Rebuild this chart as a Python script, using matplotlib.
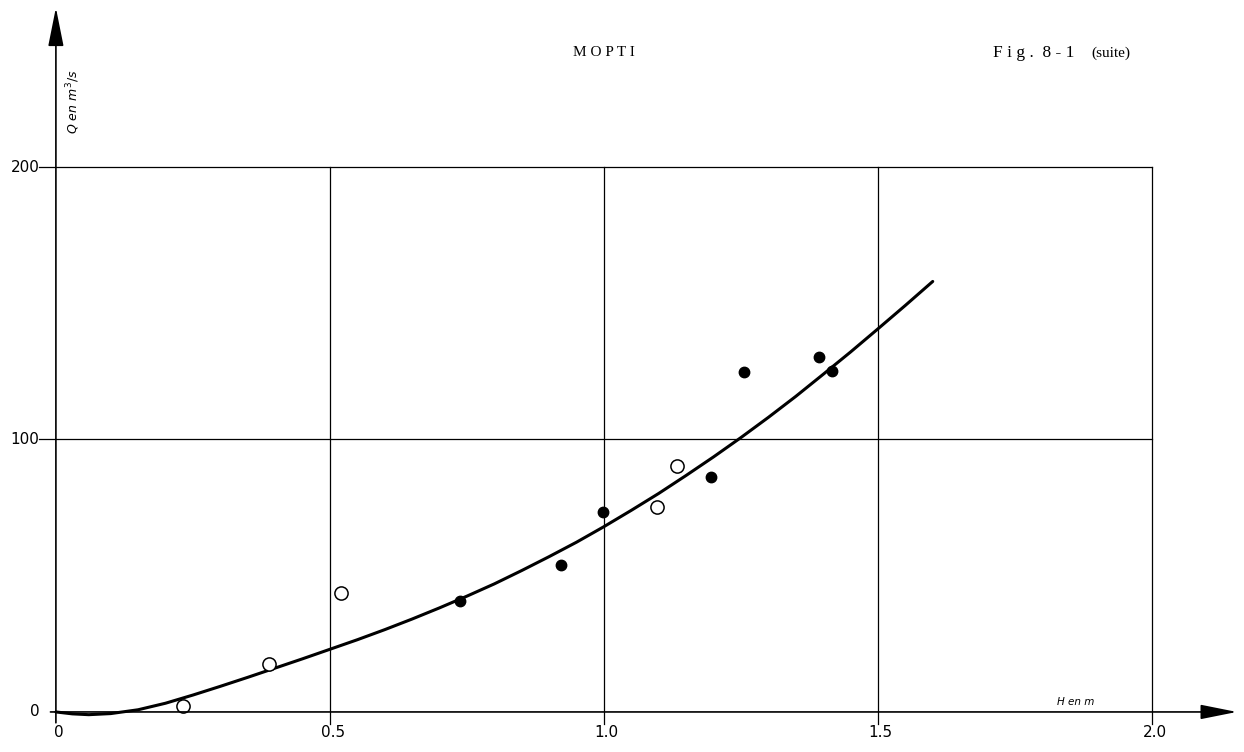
import numpy as np
import matplotlib
matplotlib.use("Agg")
import matplotlib.pyplot as plt

# ---- datos (H en m, Q en m3/s) ----
h_open = [0.232, 0.389, 0.520, 1.097, 1.133]
q_open = [2.2, 17.6, 43.7, 75.2, 90.3]

h_full = [0.737, 0.921, 0.998, 1.195, 1.255, 1.392, 1.416]
q_full = [40.7, 53.9, 73.4, 86.2, 124.8, 130.3, 125.1]

# courbe de tarage tracee a la main
h_curve = [0.00, 0.03, 0.06, 0.10, 0.15, 0.20, 0.25, 0.30, 0.35, 0.40, 0.45,
           0.50, 0.55, 0.60, 0.65, 0.70, 0.75, 0.80, 0.85, 0.90, 0.95,
           1.00, 1.05, 1.10, 1.15, 1.20, 1.25, 1.30, 1.35, 1.40, 1.45,
           1.50, 1.55, 1.60]
q_curve = [0.0, -0.7, -1.0, -0.6, 0.8, 3.2, 6.2, 9.4, 12.7, 16.1, 19.5,
           23.0, 26.5, 30.2, 34.1, 38.2, 42.5, 47.0, 51.9, 57.0, 62.3,
           68.0, 74.0, 80.2, 86.8, 93.6, 100.7, 108.1, 115.8, 123.9, 132.1,
           140.6, 149.2, 158.0]

x_ticks = [0, 0.5, 1.0, 1.5, 2.0]
x_tick_labels = ["0", "0.5", "1.0", "1.5", "2.0"]
y_ticks = [0, 100, 200]
y_tick_labels = ["0", "100", "200"]

# ---- figura ----
fig = plt.figure(figsize=(12.44, 7.52), dpi=100)
ax = fig.add_axes([0, 0, 1, 1])
ax.set_xlim(-0.102, 2.168)
ax.set_ylim(-14.7, 261.3)
ax.axis("off")

# cuadricula
for x in x_ticks[1:]:
    ax.plot([x, x], [-4.5, 200], color="black", lw=0.9)
for y in y_ticks[1:]:
    ax.plot([-0.03, 2.0], [y, y], color="black", lw=0.9)

# ejes con flechas
ax.annotate("", xy=(0, 259.5), xytext=(0, -5),
            arrowprops=dict(arrowstyle="-|>,head_length=0.8,head_width=0.16",
                            mutation_scale=30, lw=1.2, color="black"))
ax.annotate("", xy=(2.16, 0), xytext=(-0.015, 0),
            arrowprops=dict(arrowstyle="-|>,head_length=0.75,head_width=0.15",
                            mutation_scale=30, lw=1.2, color="black"))

# etiquetas de los ejes
for x, lab in zip(x_ticks, x_tick_labels):
    ax.text(x + 0.005, -7.7, lab, ha="center", va="center", fontsize=11)
for y, lab in zip(y_ticks, y_tick_labels):
    ax.text(-0.03, y, lab, ha="right", va="center", fontsize=11)

ax.text(0.031, 224, r"$Q\ en\ m^3/s$", rotation=90, ha="center",
        va="center", fontsize=9)
ax.text(1.86, 3.5, "H en m", style="italic", ha="center", va="center", fontsize=7.5)

# titulos
ax.text(1.0, 242, "M O P T I", family="Liberation Serif", ha="center",
        va="center", fontsize=11)
ax.text(1.71, 242, "F i g .  8 - 1", family="Liberation Serif", ha="left",
        va="center", fontsize=12.5)
ax.text(1.89, 241.8, "(suite)", family="Liberation Serif", ha="left",
        va="center", fontsize=11)

# curva y puntos
ax.plot(h_curve, q_curve, color="black", lw=2.2, solid_capstyle="round")
ax.plot(h_open, q_open, "o", ms=9.5, mfc="white", mec="black", mew=1.1)
ax.plot(h_full, q_full, "o", ms=7.5, mfc="black", mec="black")

fig.savefig("out.png", dpi=100)
